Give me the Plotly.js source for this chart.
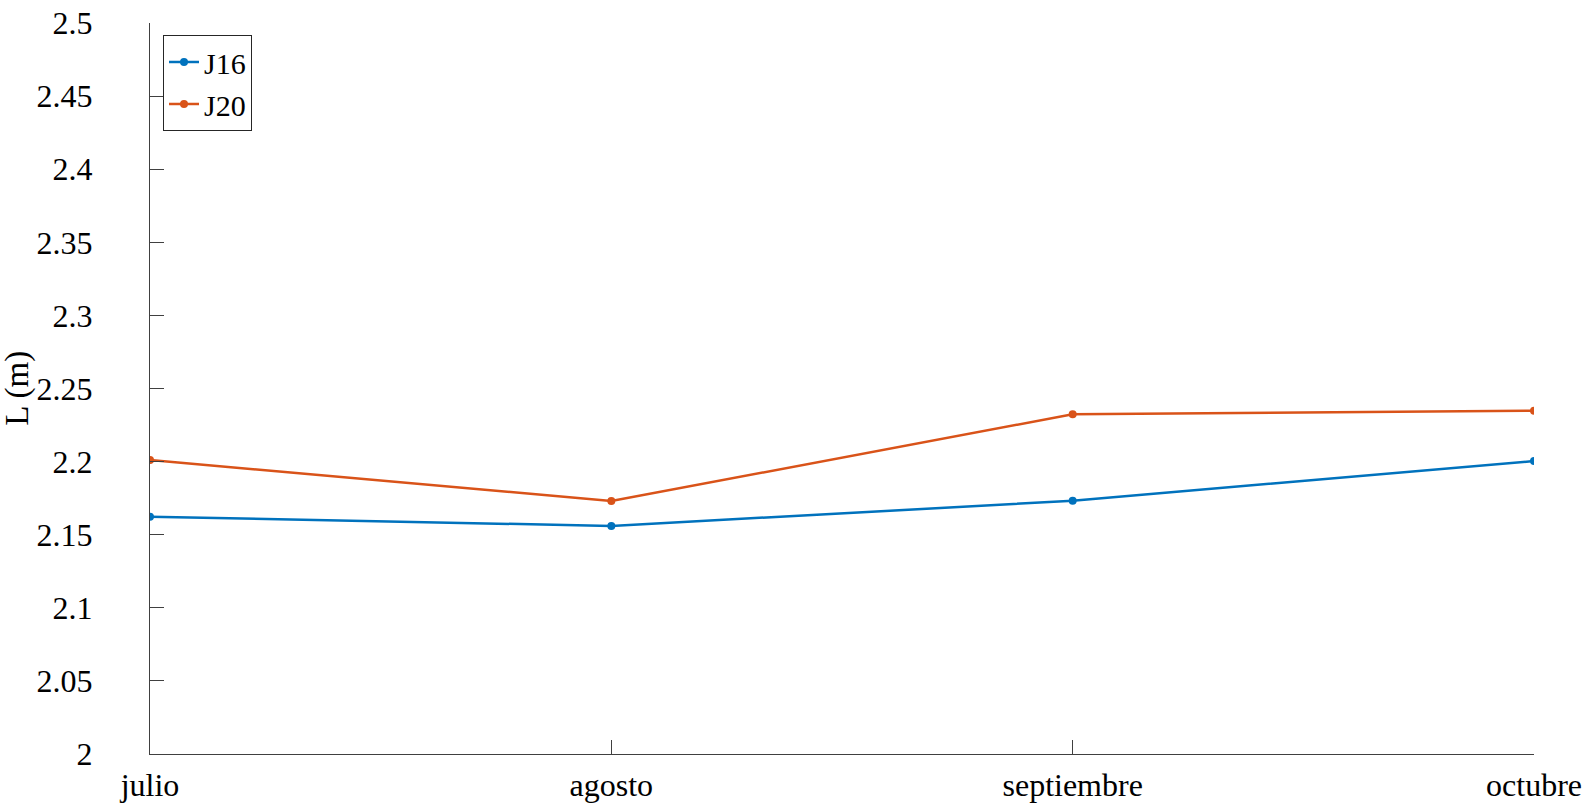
<!DOCTYPE html>
<html>
<head>
<meta charset="utf-8">
<script src="https://cdn.plot.ly/plotly-3.0.1.min.js"></script>
<style>html,body{margin:0;padding:0;background:#fff;}#chart{width:1595px;height:808px;}</style>
</head>
<body>
<div id="chart"></div>
<script>
const months = ['julio', 'agosto', 'septiembre', 'octubre'];
const j16 = [2.1623, 2.1560, 2.1732, 2.2004];
const j20 = [2.2011, 2.1730, 2.2324, 2.2348];
const yTicks = [2, 2.05, 2.1, 2.15, 2.2, 2.25, 2.3, 2.35, 2.4, 2.45, 2.5];
const yTickText = ['2', '2.05', '2.1', '2.15', '2.2', '2.25', '2.3', '2.35', '2.4', '2.45', '2.5'];
const yTitle = 'L (m)';

function F(size) { return {family: 'Liberation Serif', size: size || 32, color: '#000'}; }
const axisCol = '#404040';

const traces = [
  {x: months, y: j16, name: 'J16', type: 'scatter', mode: 'lines+markers',
   line: {color: '#0072BD', width: 2.5}, marker: {color: '#0072BD', size: 8}},
  {x: months, y: j20, name: 'J20', type: 'scatter', mode: 'lines+markers',
   line: {color: '#D95319', width: 2.5}, marker: {color: '#D95319', size: 8}}
];

const layout = {
  width: 1595, height: 808,
  margin: {l: 150, r: 61, t: 23, b: 54, pad: 0},
  paper_bgcolor: '#fff', plot_bgcolor: '#fff',
  font: F(),
  showlegend: true,
  legend: {x: 0.0094, y: 0.9836, xanchor: 'left', yanchor: 'top',
           bgcolor: '#fff', bordercolor: '#262626', borderwidth: 1,
           font: F(30), tracegroupgap: 0, itemwidth: 30},
  xaxis: {
    type: 'category', range: [0, 3],
    showgrid: false, zeroline: false,
    showline: true, linecolor: axisCol, linewidth: 1,
    ticks: 'inside', ticklen: 14, tickcolor: axisCol, tickwidth: 1,
    tickfont: F(), ticklabelstandoff: 3
  },
  yaxis: {
    range: [2, 2.5],
    tickvals: yTicks, ticktext: yTickText,
    showgrid: false, zeroline: false,
    showline: true, linecolor: axisCol, linewidth: 1,
    ticks: 'inside', ticklen: 14, tickcolor: axisCol, tickwidth: 1,
    tickfont: F(), ticklabelstandoff: 50
  },
  annotations: [{
    text: yTitle, xref: 'paper', yref: 'paper', x: -0.096, y: 0.5,
    xanchor: 'center', yanchor: 'middle', textangle: -90, showarrow: false,
    font: F(33)
  }]
};

Plotly.newPlot('chart', traces, layout, {displayModeBar: false, staticPlot: true});
</script>
</body>
</html>
